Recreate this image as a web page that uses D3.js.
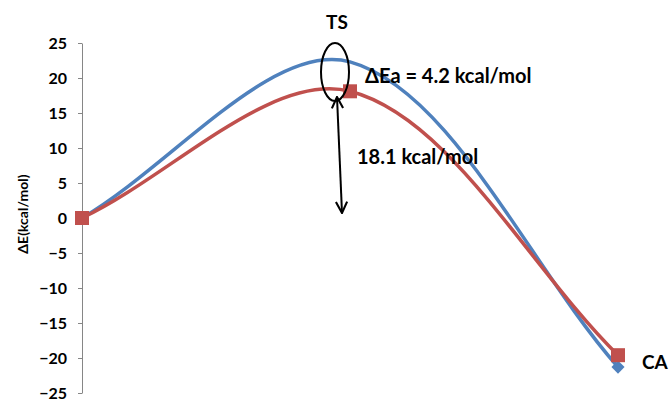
<!DOCTYPE html>
<html>
<head>
<meta charset="utf-8">
<script src="https://cdn.jsdelivr.net/npm/d3@7"></script>
<style>
  body { margin: 0; background: #fff; }
  text { font-family: "Lato", "Noto Sans", sans-serif; font-weight: bold; }
</style>
</head>
<body>
<div id="chart"></div>
<script>
// steps along the reaction path
var steps = ["R", "TS", "CA"];
// energies (kcal/mol)
var seriesBlue = [0, 22.3, -21.3];
var seriesRed = [0, 18.1, -19.6];
var yTicks = [25, 20, 15, 10, 5, 0, -5, -10, -15, -20, -25];

var width = 670, height = 402;

var svg = d3.select("#chart").append("svg")
    .attr("width", width)
    .attr("height", height);

var x = d3.scalePoint()
    .domain(steps)
    .range([82, 618]);

var y = d3.scaleLinear()
    .domain([-25, 25])
    .range([393, 43]);

// y axis
var yAxis = d3.axisLeft(y)
    .tickValues(yTicks)
    .tickSize(4)
    .tickSizeOuter(0)
    .tickPadding(11);

var gy = svg.append("g")
    .attr("transform", "translate(82,0)")
    .call(yAxis);
gy.select(".domain").attr("stroke", "#868686");
gy.selectAll(".tick line").attr("stroke", "#868686");
gy.selectAll(".tick text")
    .attr("fill", "#000")
    .style("font-size", "16px")
    .style("font-family", "Lato, 'Noto Sans', sans-serif")
    .style("font-weight", "bold");

svg.append("text")
    .attr("transform", "translate(28,214) rotate(-90)")
    .attr("text-anchor", "middle")
    .style("font-size", "14px")
    .text("ΔE(kcal/mol)");

// smoothed line the way the spreadsheet draws it: bezier segments whose
// tangents are split in proportion to the neighbouring segment lengths
function smoothPath(values) {
    var pts = values.map(function (d, i) { return [x(steps[i]), y(d)]; });
    var n = pts.length;
    var dist = function (a, b) { return Math.hypot(b[0] - a[0], b[1] - a[1]); };
    var p = d3.path();
    p.moveTo(pts[0][0], pts[0][1]);
    for (var i = 0; i < n - 1; i++) {
        var p0 = pts[Math.max(i - 1, 0)], p1 = pts[i], p2 = pts[i + 1], p3 = pts[Math.min(i + 2, n - 1)];
        var d01 = dist(p0, p1), d12 = dist(p1, p2), d23 = dist(p2, p3);
        var f1 = d12 / (d01 + d12) / 3, f2 = d12 / (d12 + d23) / 3;
        p.bezierCurveTo(
            p1[0] + (p2[0] - p0[0]) * f1, p1[1] + (p2[1] - p0[1]) * f1,
            p2[0] - (p3[0] - p1[0]) * f2, p2[1] - (p3[1] - p1[1]) * f2,
            p2[0], p2[1]);
    }
    return p.toString();
}

svg.append("path")
    .attr("fill", "none")
    .attr("stroke", "#4F81BD")
    .attr("stroke-width", 3.5)
    .attr("d", smoothPath(seriesBlue));

svg.append("path")
    .attr("fill", "none")
    .attr("stroke", "#C0504D")
    .attr("stroke-width", 3.5)
    .attr("d", smoothPath(seriesRed));

// markers (the blue one at TS is not shown)
svg.selectAll(".diamond")
    .data(seriesBlue.map(function (d, i) { return {step: steps[i], v: d}; })
        .filter(function (d) { return d.step !== "TS"; }))
    .enter().append("path")
    .attr("class", "diamond")
    .attr("fill", "#4F81BD")
    .attr("transform", function (d) {
        return "translate(" + x(d.step) + "," + y(d.v) + ")";
    })
    .attr("d", d3.symbol().type(d3.symbolDiamond2).size(110));

svg.selectAll(".square")
    .data(seriesRed)
    .enter().append("rect")
    .attr("class", "square")
    .attr("fill", "#C0504D")
    .attr("x", function (d, i) { return x(steps[i]) - 7; })
    .attr("y", function (d) { return y(d) - 7; })
    .attr("width", 14)
    .attr("height", 14);

// annotations
svg.append("ellipse")
    .attr("cx", 335)
    .attr("cy", 72)
    .attr("rx", 14)
    .attr("ry", 29)
    .attr("fill", "none")
    .attr("stroke", "#000")
    .attr("stroke-width", 2);

svg.append("defs").append("marker")
    .attr("id", "head")
    .attr("viewBox", "0 0 10 10")
    .attr("refX", 9)
    .attr("refY", 5)
    .attr("markerWidth", 7)
    .attr("markerHeight", 7)
    .attr("orient", "auto-start-reverse")
    .append("path")
    .attr("d", "M1,1 L9,5 L1,9")
    .attr("fill", "none")
    .attr("stroke", "#000")
    .attr("stroke-width", 1.5);

svg.append("line")
    .attr("x1", 337).attr("y1", 97)
    .attr("x2", 342).attr("y2", 213)
    .attr("stroke", "#000")
    .attr("stroke-width", 2)
    .attr("marker-start", "url(#head)")
    .attr("marker-end", "url(#head)");

svg.append("text").attr("x", 337).attr("y", 29)
    .attr("text-anchor", "middle")
    .style("font-size", "19px")
    .text("TS");

svg.append("text").attr("x", 365).attr("y", 83)
    .style("font-size", "20px")
    .text("ΔEa = 4.2 kcal/mol");

svg.append("text").attr("x", 357).attr("y", 164)
    .style("font-size", "20px")
    .text("18.1 kcal/mol");

svg.append("text").attr("x", 642).attr("y", 369)
    .style("font-size", "19px")
    .text("CA");
</script>
</body>
</html>
